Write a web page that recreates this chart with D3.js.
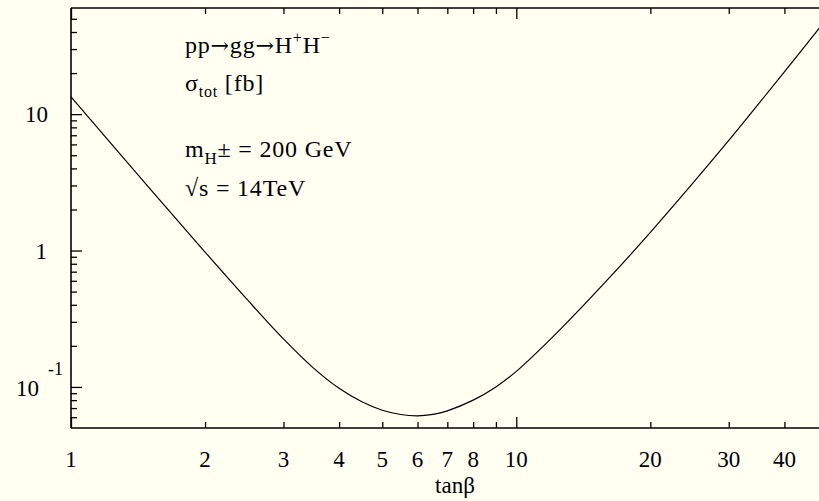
<!DOCTYPE html>
<html>
<head>
<meta charset="utf-8">
<script src="https://cdn.jsdelivr.net/npm/d3@7"></script>
<style>
  html, body { margin: 0; padding: 0; background: #fffff2; overflow: hidden; }
  svg { display: block; font-family: "Liberation Serif", "DejaVu Serif", serif; }
  .arrow { font-family: "DejaVu Serif", serif; }
  .note { letter-spacing: 0.8px; }
</style>
</head>
<body>
<div id="chart"></div>
<script>
// pp -> gg -> H+H-, sigma_tot [fb] vs tan(beta)
var tanBeta = [1, 1.5, 2, 2.5, 3, 3.5, 4, 4.5, 5, 5.5, 6, 6.5, 7, 8, 9, 10, 12, 14, 17, 20, 25, 30, 35, 40, 45, 50];
var sigmaTot = [13.4, 2.87, 0.975, 0.429, 0.225, 0.138, 0.0977, 0.0778, 0.0675, 0.0628, 0.0614, 0.0630, 0.0668, 0.0800, 0.100, 0.130, 0.228, 0.382, 0.752, 1.36, 3.16, 6.41, 11.9, 20.4, 33.0, 50.9];

var xMajor = [1, 10];
var xMinor = [2, 3, 4, 5, 6, 7, 8, 9, 20, 30, 40];
var xLabels = [1, 2, 3, 4, 5, 6, 7, 8, 10, 20, 30, 40];
var yMajor = [0.1, 1, 10];
var yMinor = [0.06, 0.07, 0.08, 0.09, 0.2, 0.3, 0.4, 0.5, 0.6, 0.7, 0.8, 0.9, 2, 3, 4, 5, 6, 7, 8, 9, 20, 30, 40, 50];

var width = 819, height = 501;
var mLeft = 71, mTop = 8, mBottom = 428;
var decX = 445.3;

var svg = d3.select("#chart").append("svg")
	.attr("width", width)
	.attr("height", height);

svg.append("rect").attr("width", width).attr("height", height).attr("fill", "#fffff2");

var x = d3.scaleLog().domain([1, 50]).range([mLeft, mLeft + decX * Math.log10(50)]);
var y = d3.scaleLog().domain([0.05, 60]).range([mBottom, mTop]);

// axes: ticks point inward
function drawAxis(axis, vals, size, tr) {
	var g = svg.append("g").attr("transform", tr)
		.call(axis.tickValues(vals).tickSizeInner(size).tickSizeOuter(0).tickFormat(""));
	g.select(".domain").remove();
	g.selectAll(".tick line").attr("stroke", "#000").attr("stroke-width", 1.3);
	return g;
}
drawAxis(d3.axisBottom(x), xMajor, -11, "translate(0," + mBottom + ")");
drawAxis(d3.axisBottom(x), xMinor, -6, "translate(0," + mBottom + ")");
drawAxis(d3.axisTop(x), xMajor, -11, "translate(0," + mTop + ")");
drawAxis(d3.axisTop(x), xMinor, -6, "translate(0," + mTop + ")");
drawAxis(d3.axisLeft(y), yMajor, -11, "translate(" + mLeft + ",0)");
drawAxis(d3.axisLeft(y), yMinor, -6, "translate(" + mLeft + ",0)");

// frame lines
svg.append("line").attr("x1", mLeft).attr("x2", width).attr("y1", mBottom).attr("y2", mBottom)
	.attr("stroke", "#000").attr("stroke-width", 1.6);
svg.append("line").attr("x1", mLeft).attr("x2", width).attr("y1", mTop).attr("y2", mTop)
	.attr("stroke", "#000").attr("stroke-width", 1.6);
svg.append("line").attr("x1", mLeft).attr("x2", mLeft).attr("y1", mTop).attr("y2", mBottom)
	.attr("stroke", "#000").attr("stroke-width", 1.6);

// x tick labels
svg.selectAll(".xl").data(xLabels).enter().append("text")
	.attr("class", "xl")
	.attr("x", function(d) { return x(d); })
	.attr("y", 467)
	.attr("text-anchor", "middle")
	.attr("font-size", 23)
	.text(function(d) { return d; });

svg.append("text").attr("x", 455).attr("y", 493).attr("text-anchor", "middle")
	.attr("font-size", 23).text("tanβ");

// y tick labels
svg.append("text").attr("x", 48).attr("y", y(10) + 8).attr("text-anchor", "end")
	.attr("font-size", 23).text("10");
svg.append("text").attr("x", 47).attr("y", y(1) + 8).attr("text-anchor", "end")
	.attr("font-size", 23).text("1");
var tm = svg.append("text").attr("x", 16).attr("y", y(0.1) + 9).attr("font-size", 23);
tm.append("tspan").text("10");
tm.append("tspan").attr("x", 48).attr("dy", -21).attr("font-size", 18).text("-1");

// curve
var pts = tanBeta.map(function(t, i) { return [t, sigmaTot[i]]; });
var line = d3.line()
	.x(function(d) { return x(d[0]); })
	.y(function(d) { return y(d[1]); })
	.curve(d3.curveCatmullRom.alpha(0.5));
svg.append("path").datum(pts)
	.attr("d", line)
	.attr("fill", "none")
	.attr("stroke", "#000")
	.attr("stroke-width", 1.2);

// annotations
var tx = 185;
var t1 = svg.append("text").attr("class", "note").attr("x", tx).attr("y", 53).attr("font-size", 24);
t1.append("tspan").text("pp");
t1.append("tspan").attr("class", "arrow").attr("font-size", 22).text("→");
t1.append("tspan").text("gg");
t1.append("tspan").attr("class", "arrow").attr("font-size", 22).text("→");
t1.append("tspan").text("H");
t1.append("tspan").attr("dy", -10).attr("font-size", 16).text("+");
t1.append("tspan").attr("dy", 10).text("H");
t1.append("tspan").attr("dy", -10).attr("font-size", 16).text("−");

var t2 = svg.append("text").attr("class", "note").attr("x", tx).attr("y", 91).attr("font-size", 24);
t2.append("tspan").text("σ");
t2.append("tspan").attr("dy", 6).attr("font-size", 16).text("tot");
t2.append("tspan").attr("dy", -6).text(" [fb]");

var t3 = svg.append("text").attr("class", "note").attr("x", tx).attr("y", 157).attr("font-size", 24);
t3.append("tspan").text("m");
t3.append("tspan").attr("dy", 7).attr("font-size", 17).text("H");
t3.append("tspan").attr("dy", -7).text("± = 200 GeV");

svg.append("text").attr("class", "note").attr("x", tx).attr("y", 196).attr("font-size", 24).text("√s = 14TeV");
</script>
</body>
</html>
